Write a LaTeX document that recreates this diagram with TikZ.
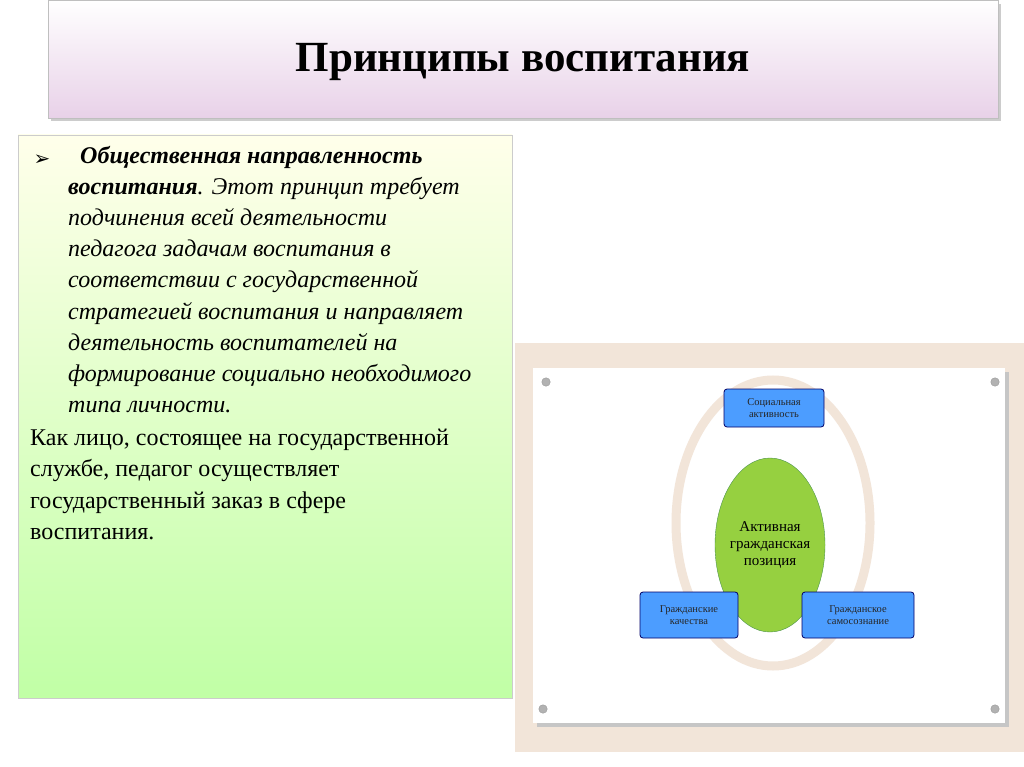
\documentclass[tikz,border=0pt]{standalone}
\usepackage{fontspec}
\setmainfont{Liberation Serif}
\newfontfamily\djv{DejaVu Sans}
\newfontfamily\carfont{Carlito}
\begin{document}
\begin{tikzpicture}[x=1pt,y=-1pt,
  bluebox/.style={draw=blue!40!black,fill=blue!55!cyan!70!white,rounded corners=3pt,line width=0.8pt,align=center,font=\fontsize{10.5}{12}\selectfont,text=black!85,inner sep=0pt},
  screw/.style={circle,fill=gray!60,draw=gray!80,inner sep=3pt}]
\useasboundingbox (0,0) rectangle (1024,767);
\fill[white] (0,0) rectangle (1024,767);
% title
\fill[gray!40] (51,4) rectangle (1001,121);
\shade[top color=white,bottom color=violet!18!white,draw=gray!50] (48,0) rectangle (998,118);
\node (title) at (523,62) {\fontsize{43}{50}\selectfont\bfseries Принципы воспитания};
% green box
\shade[top color=yellow!8!white,bottom color=green!70!yellow!35!white,draw=gray!40] (18,135) rectangle (512,698);
\node (bul) at (42,160) {\djv\fontsize{20}{20}\selectfont ➢};
\node[anchor=north west,align=left,inner sep=0pt,font=\fontsize{24}{31.2}\selectfont\itshape] (txt) at (80,146)
{\textbf{Общественная направленность}};
\node[anchor=north west,align=left,inner sep=0pt,font=\fontsize{24}{31.2}\selectfont\itshape] (txt1) at (68,177)
{\textbf{воспитания}. Этот принцип требует\\
подчинения всей деятельности\\
педагога задачам воспитания в\\
соответствии с государственной\\
стратегией воспитания и направляет\\
деятельность воспитателей на\\
формирование социально необходимого\\
типа личности.};
\node[anchor=north west,align=left,inner sep=0pt,font=\fontsize{24}{31.2}\selectfont] (txt2) at (30,429)
{Как лицо, состоящее на государственной\\
службе, педагог осуществляет\\
государственный заказ в сфере\\
воспитания.};
% picture
\fill[brown!20!white] (515,343) rectangle (1024,752);
\fill[gray!45] (537,372) rectangle (1009,727);
\fill[white] (533,368) rectangle (1005,723);
\node[screw] (s1) at (546,382) {};
\node[screw] (s2) at (995,382) {};
\node[screw] (s3) at (543,709) {};
\node[screw] (s4) at (995,709) {};
\draw[line width=9pt,brown!20!white] (773,523) ellipse (97 and 143);
\draw[fill=green!55!black!55!yellow!75!white,draw=green!40!black!70] (770,545) ellipse (55 and 87);
\node[align=center,font=\fontsize{15}{17}\selectfont] (core) at (770,545) {Активная\\гражданская\\позиция};
\node[bluebox,minimum width=100pt,minimum height=38pt] (b1) at (774,408) {Социальная\\активность};
\node[bluebox,minimum width=98pt,minimum height=46pt] (b2) at (689,615) {Гражданские\\качества};
\node[bluebox,minimum width=112pt,minimum height=46pt] (b3) at (858,615) {Гражданское\\самосознание};
\end{tikzpicture}
\end{document}
